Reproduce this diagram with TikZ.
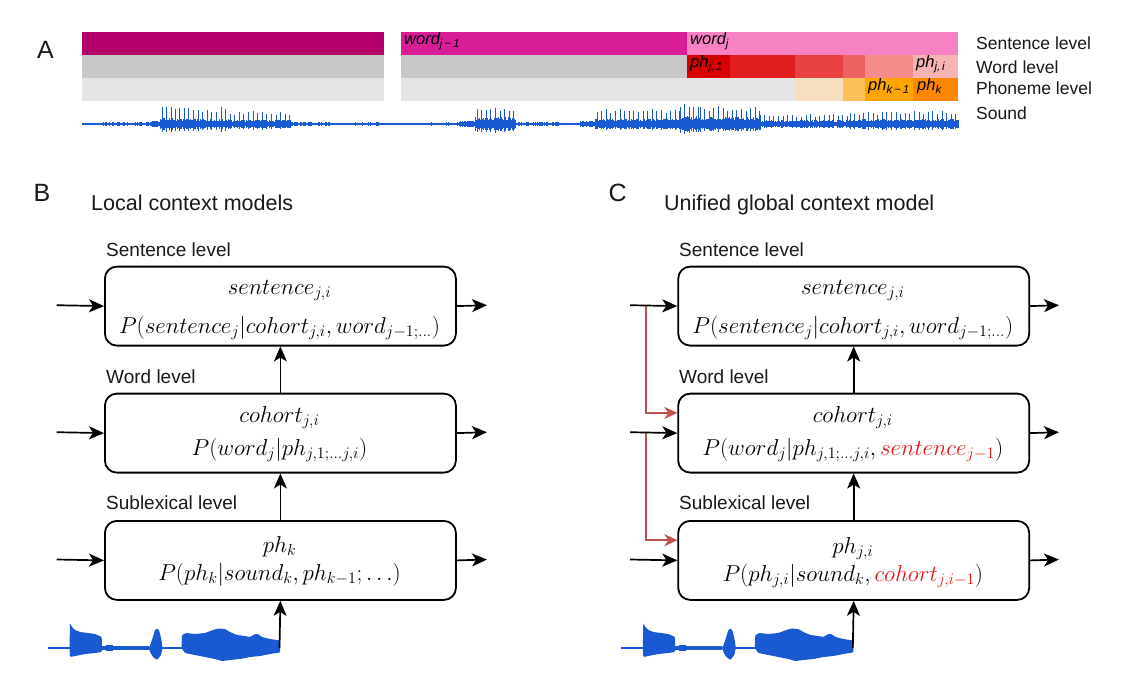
\RequirePackage{fix-cm}
\documentclass[tikz,border=0pt]{standalone}
\usepackage{fontspec}
\newfontfamily\lsans{Liberation Sans}
\usetikzlibrary{arrows.meta,calc}
\definecolor{wave}{RGB}{25,90,210}
\definecolor{magA}{RGB}{181,0,107}
\definecolor{magB}{RGB}{216,30,150}
\definecolor{magC}{RGB}{246,130,195}
\definecolor{grA}{RGB}{200,200,200}
\definecolor{grB}{RGB}{229,229,229}
\definecolor{rdA}{RGB}{214,0,0}
\definecolor{rdB}{RGB}{224,30,30}
\definecolor{rdC}{RGB}{231,65,65}
\definecolor{rdD}{RGB}{237,98,98}
\definecolor{rdE}{RGB}{244,140,140}
\definecolor{rdF}{RGB}{247,178,178}
\definecolor{orA}{RGB}{246,222,190}
\definecolor{orB}{RGB}{251,192,90}
\definecolor{orC}{RGB}{255,165,0}
\definecolor{orD}{RGB}{255,136,0}
\definecolor{conred}{RGB}{192,80,77}
\definecolor{txred}{RGB}{232,20,20}
\definecolor{ink}{RGB}{25,25,25}
\newcommand\lsub[1]{\raisebox{-0.45ex}{\fontsize{11.5}{12}\selectfont\itshape #1}}
\begin{document}
\begin{tikzpicture}[x=1pt,y=-1pt,
  box/.style={draw, line width=1.8pt, rounded corners=12pt, minimum width=351pt, minimum height=79pt, inner sep=0pt, anchor=north west},
  arr/.style={line width=1.7pt, -{Stealth[length=15pt,width=13pt,inset=4pt]}},
  redarr/.style={conred, line width=1.6pt, -{Stealth[length=13pt,width=12pt,inset=4pt]}},
  mth/.style={anchor=base, inner sep=0pt, font=\fontsize{23}{27}\selectfont},
  lvl/.style={anchor=base west, inner sep=0pt, text=ink, font=\lsans\fontsize{19}{22}\selectfont},
  alab/.style={anchor=base west, inner sep=0pt, text=ink, font=\lsans\fontsize{17.5}{20}\selectfont},
  ttl/.style={anchor=base west, inner sep=0pt, text=ink, font=\lsans\fontsize{21.5}{25}\selectfont},
  pan/.style={anchor=base west, inner sep=0pt, text=ink, font=\lsans\fontsize{25}{28}\selectfont},
  cell/.style={anchor=base west, inner sep=0pt, text=black, font=\lsans\itshape\fontsize{16.5}{18}\selectfont},
  wavel/.style={wave, line width=1pt},
  spike/.style={wave, line width=0.9pt}]
\fill[white] (0,0) rectangle (1139,696);
\useasboundingbox (0,0) rectangle (1139,696);

% ---------------- Panel A ----------------
\node[pan] (pA) at (37,58) {A};
% block 1
\fill[magA] (82,32) rectangle (384,55);
\fill[grA] (82,55) rectangle (384,78);
\fill[grB] (82,78) rectangle (384,101);
% block 2
\fill[magB] (401,32) rectangle (687,55);
\fill[magC] (687,32) rectangle (958,55);
\fill[grA] (401,55) rectangle (687,78);
\fill[rdA] (687,55) rectangle (730,78);
\fill[rdB] (730,55) rectangle (795,78);
\fill[rdC] (795,55) rectangle (843,78);
\fill[rdD] (843,55) rectangle (865,78);
\fill[rdE] (865,55) rectangle (913,78);
\fill[rdF] (913,55) rectangle (958,78);
\fill[grB] (401,78) rectangle (795,101);
\fill[orA] (795,78) rectangle (843,101);
\fill[orB] (843,78) rectangle (865,101);
\fill[orC] (865,78) rectangle (913,101);
\fill[orD] (913,78) rectangle (958,101);
% cell texts
\node[cell] (cw1) at (404,44) {word\lsub{j\,−\,1}};
\node[cell] (cw2) at (690,44) {word\lsub{j}};
\node[cell] (cp1) at (690,67) {ph\lsub{j,\,1}};
\node[cell] (cp2) at (916,67) {ph\lsub{j,\,i}};
\node[cell] (cp3) at (868,90) {ph\lsub{k\,−\,1}};
\node[cell] (cp4) at (917,90) {ph\lsub{k}};
% level labels
\node[alab] (la1) at (976,49.5) {Sentence level};
\node[alab] (la2) at (976,73) {Word level};
\node[alab] (la3) at (976,94.5) {Phoneme level};
\node[alab] (la4) at (976,119.5) {Sound};
% waveform
\draw[wave, line width=1.4pt] (82,124) -- (958,124);
\pgfmathsetseed{12}
\foreach \a/\b/\bd in {100/150/1.8, 150/160/3.2, 160/175/7, 175/230/5.5, 230/290/4.5, 290/330/2, 355/380/1.8, 430/460/1.6, 460/475/3.5, 475/515/7, 515/560/2, 580/595/3.5, 595/680/5.5, 680/700/8.5, 700/760/7, 760/850/4, 850/958/5}{
  \pgfmathsetmacro\aa{\a+1}
  \foreach \x in {\a,\aa,...,\b}{
    \pgfmathsetmacro\r{\bd*(0.5+0.5*rnd)}
    \draw[wavel] (\x,124-\r) -- (\x,124+\r);
  }
}
\foreach \a/\b/\up/\dn in {162/175/22/10, 175/230/17/8, 230/290/13/6, 477/515/16/9, 597/680/15/6, 680/700/22/11, 700/760/18/8, 760/850/10/4, 850/956/13/6}{
  \pgfmathsetmacro\aa{\a+4.6}
  \foreach \x in {\a,\aa,...,\b}{
    \pgfmathsetmacro\s{0.7+0.3*rnd}
    \draw[spike] (\x,124-\up*\s) -- (\x,124+\dn*\s);
  }
}

% ---------------- Panel B ----------------
\node[pan] (pB) at (33.5,201.7) {B};
\node[ttl] (tB) at (91,210) {Local context models};
\node[lvl] (lB1) at (106,256.8) {Sentence level};
\node[lvl] (lB2) at (106,383.5) {Word level};
\node[lvl] (lB3) at (106,509.8) {Sublexical level};
\node[box] (B1) at (104,265.7) {};
\node[box] (B2) at (104,392.7) {};
\node[box] (B3) at (104,520) {};
\node[mth] (tB1a) at (279.5,294) {$sentence_{j,i}$};
\node[mth] (tB1b) at (279.5,333) {$P(sentence_j|cohort_{j,i},word_{j-1;\ldots})$};
\node[mth] (tB2a) at (279.5,422) {$cohort_{j,i}$};
\node[mth] (tB2b) at (279.5,455) {$P(word_j|ph_{j,1;\ldots j,i})$};
\node[mth] (tB3a) at (279.5,552.5) {$ph_k$};
\node[mth] (tB3b) at (279.5,580) {$P(ph_k|sound_k,ph_{k-1};\ldots)$};
\coordinate (inB1) at (56.7,305.2);
\coordinate (inB2) at (56.7,432.2);
\coordinate (inB3) at (56.7,559.5);
\coordinate (outB1) at (487,305.2);
\coordinate (outB2) at (487,432.2);
\coordinate (outB3) at (487,559.5);
\draw[arr] (inB1) -- (B1.west);
\draw[arr] (inB2) -- (B2.west);
\draw[arr] (inB3) -- (B3.west);
\draw[arr] (B1.east) -- (outB1);
\draw[arr] (B2.east) -- (outB2);
\draw[arr] (B3.east) -- (outB3);
\draw[arr] (B2.north) -- (B1.south);
\draw[arr] (B3.north) -- (B2.south);
% small waveform B
\begin{scope}
\draw[wave, line width=1.2pt] (48,648) -- (280,648);
\fill[wave] (58,646.6) rectangle (70,649.4);
\fill[wave] (102,646.3) rectangle (149,649.7);
\fill[wave] (106,645) rectangle (113,651);
\fill[wave] (162,646.8) rectangle (182,649.2);
\fill[wave, rounded corners=1pt] (69.5,648) -- (70,623) -- (72,627) -- (75,630) -- (80,632) -- (88,633) -- (95,634) -- (101.7,637) -- (102,648) -- (101.7,652) -- (95,653) -- (85,654) -- (75,656) -- (70,657) -- cycle;
\fill[wave, rounded corners=1pt] (149,648) -- (152,640) -- (155,630) -- (157,628.5) -- (159,630) -- (161.5,640) -- (162.5,648) -- (161,655) -- (157,660) -- (153,657) -- (150,652) -- cycle;
\fill[wave, rounded corners=1pt] (181.5,648) -- (182,635) -- (186,633) -- (195,634) -- (205,633) -- (213,630) -- (218,628.5) -- (225,629) -- (230,632) -- (237,635) -- (245,636) -- (250,637) -- (255,634) -- (258,634) -- (262,637) -- (270,639) -- (280,640.5) -- (280,652.5) -- (270,654) -- (260,656) -- (250,657) -- (240,659) -- (230,660) -- (222,661) -- (215,659) -- (205,657) -- (195,655) -- (185,653) -- cycle;
\end{scope}
\coordinate (wvB) at (279.5,648);
\draw[arr] (wvB) -- (B3.south);

% ---------------- Panel C ----------------
\node[pan] (pC) at (608.5,201.7) {C};
\node[ttl] (tC) at (664,210) {Unified global context model};
\node[lvl] (lC1) at (679,256.8) {Sentence level};
\node[lvl] (lC2) at (679,383.5) {Word level};
\node[lvl] (lC3) at (679,509.8) {Sublexical level};
\node[box] (C1) at (677.3,265.7) {};
\node[box] (C2) at (677.3,392.7) {};
\node[box] (C3) at (677.3,520) {};
\node[mth] (tC1a) at (852.8,294) {$sentence_{j,i}$};
\node[mth] (tC1b) at (852.8,333) {$P(sentence_j|cohort_{j,i},word_{j-1;\ldots})$};
\node[mth] (tC2a) at (852.8,422) {$cohort_{j,i}$};
\node[mth] (tC2b) at (852.8,455) {$P(word_j|ph_{j,1;\ldots j,i},{\color{txred}sentence_{j-1}})$};
\node[mth] (tC3a) at (852.8,553.5) {$ph_{j,i}$};
\node[mth] (tC3b) at (852.8,581) {$P(ph_{j,i}|sound_k,{\color{txred}cohort_{j,i-1}})$};
\coordinate (inC1) at (630,305.2);
\coordinate (inC2) at (630,432.2);
\coordinate (inC3) at (630,559.5);
\coordinate (outC1) at (1059,305.2);
\coordinate (outC2) at (1059,432.2);
\coordinate (outC3) at (1059,559.5);
\coordinate (jC1) at (646,305.2);
\coordinate (jC2) at (646,432.2);
\draw[redarr] (jC1) |- ($(C2.north west)!0.25!(C2.south west)$);
\draw[redarr] (jC2) |- ($(C3.north west)!0.25!(C3.south west)$);
\draw[arr] (inC1) -- (C1.west);
\draw[arr] (inC2) -- (C2.west);
\draw[arr] (inC3) -- (C3.west);
\draw[arr] (C1.east) -- (outC1);
\draw[arr] (C2.east) -- (outC2);
\draw[arr] (C3.east) -- (outC3);
\draw[arr] (C2.north) -- (C1.south);
\draw[arr] (C3.north) -- (C2.south);
\begin{scope}[shift={(573.3,0)}]
\draw[wave, line width=1.2pt] (48,648) -- (280,648);
\fill[wave] (58,646.6) rectangle (70,649.4);
\fill[wave] (102,646.3) rectangle (149,649.7);
\fill[wave] (106,645) rectangle (113,651);
\fill[wave] (162,646.8) rectangle (182,649.2);
\fill[wave, rounded corners=1pt] (69.5,648) -- (70,623) -- (72,627) -- (75,630) -- (80,632) -- (88,633) -- (95,634) -- (101.7,637) -- (102,648) -- (101.7,652) -- (95,653) -- (85,654) -- (75,656) -- (70,657) -- cycle;
\fill[wave, rounded corners=1pt] (149,648) -- (152,640) -- (155,630) -- (157,628.5) -- (159,630) -- (161.5,640) -- (162.5,648) -- (161,655) -- (157,660) -- (153,657) -- (150,652) -- cycle;
\fill[wave, rounded corners=1pt] (181.5,648) -- (182,635) -- (186,633) -- (195,634) -- (205,633) -- (213,630) -- (218,628.5) -- (225,629) -- (230,632) -- (237,635) -- (245,636) -- (250,637) -- (255,634) -- (258,634) -- (262,637) -- (270,639) -- (280,640.5) -- (280,652.5) -- (270,654) -- (260,656) -- (250,657) -- (240,659) -- (230,660) -- (222,661) -- (215,659) -- (205,657) -- (195,655) -- (185,653) -- cycle;
\end{scope}
\coordinate (wvC) at (852.8,648);
\draw[arr] (wvC) -- (C3.south);
\end{tikzpicture}
\end{document}
